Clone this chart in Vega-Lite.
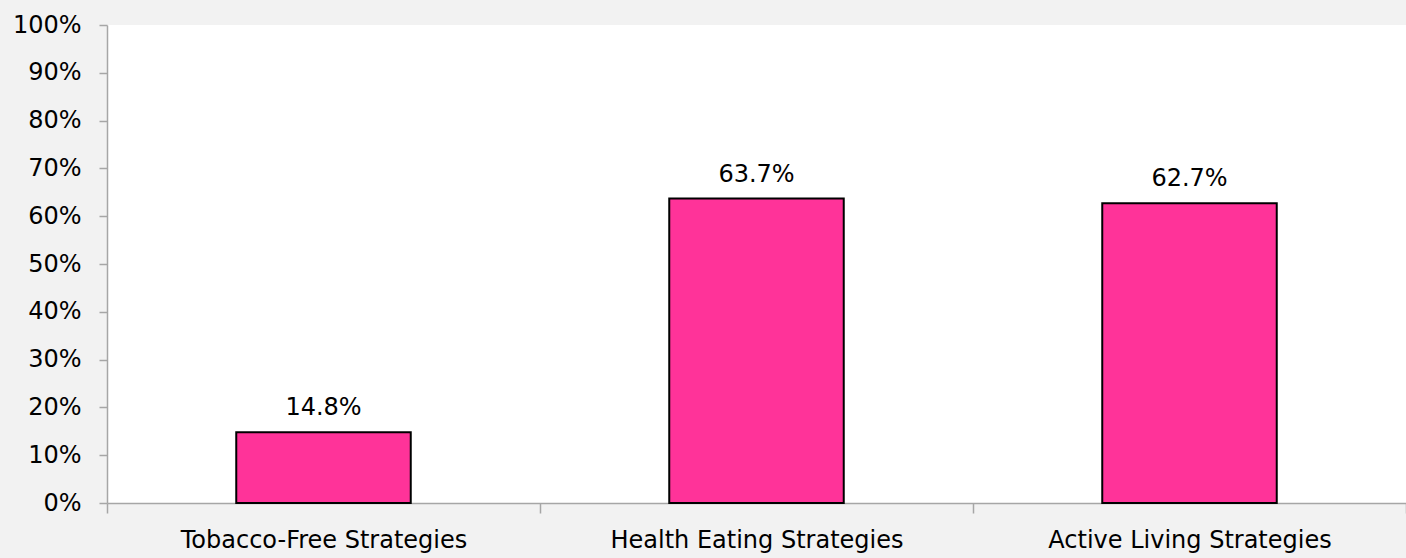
{
  "$schema": "https://vega.github.io/schema/vega-lite/v6.json",
  "autosize": {"type": "none"},
  "width": 1299,
  "height": 478,
  "padding": {"left": 107, "top": 25, "right": 0, "bottom": 55},
  "background": "#f2f2f2",
  "view": {"fill": "white", "stroke": null},
  "config": {
    "font": "DejaVu Sans",
    "axis": {"grid": false, "domainColor": "#a6a6a6", "tickColor": "#a6a6a6", "domainWidth": 1.5, "tickWidth": 1.5, "labelColor": "#000000", "labelFont": "DejaVu Sans", "labelFontSize": 24, "labelLimit": 1000}
  },
  "data": {
    "values": [
      {"category": "Tobacco-Free Strategies", "value": 0.148},
      {"category": "Health Eating Strategies", "value": 0.637},
      {"category": "Active Living Strategies", "value": 0.627}
    ]
  },
  "encoding": {
    "x": {
      "field": "category", "type": "nominal", "sort": null,
      "scale": {"paddingInner": 0, "paddingOuter": 0},
      "axis": {"title": null, "labelAngle": 0, "labelPadding": 15, "tickBand": "extent", "tickSize": 10, "labelOverlap": false}
    },
    "y": {
      "field": "value", "type": "quantitative",
      "scale": {"domain": [0, 1], "nice": false},
      "axis": {"title": null, "format": ".0%", "values": [0,0.1,0.2,0.3,0.4,0.5,0.6,0.7,0.8,0.9,1], "tickSize": 8, "labelPadding": 18, "labelOverlap": false}
    }
  },
  "layer": [
    {"mark": {"type": "bar", "width": {"band": 0.403}, "fill": "#ff3399", "stroke": "#000000", "strokeWidth": 2}},
    {"mark": {"type": "text", "baseline": "alphabetic", "dy": -17, "fontSize": 24, "color": "#000000"},
     "encoding": {"text": {"field": "value", "type": "quantitative", "format": ".1%"}}}
  ]
}
